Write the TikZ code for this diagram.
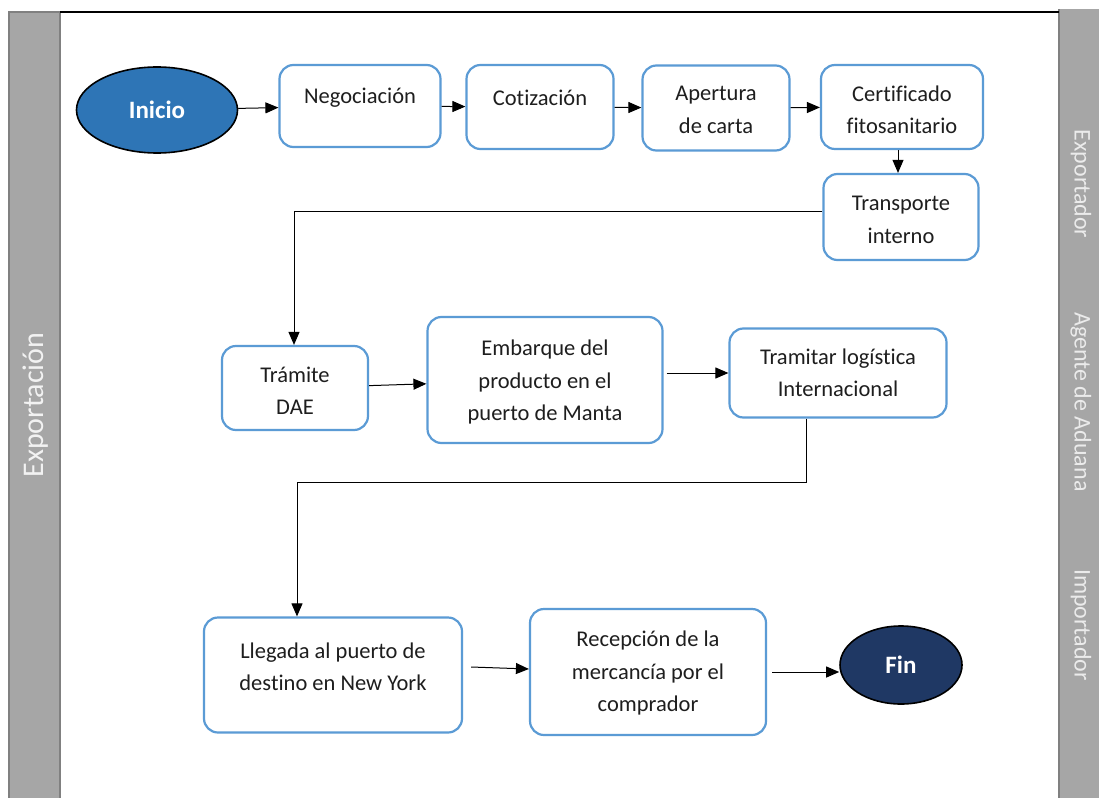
\documentclass[tikz,border=0pt]{standalone}
\usepackage{fontspec}
\setmainfont{Carlito}[Ligatures=NoCommon]
\usetikzlibrary{arrows.meta,shapes.geometric}
\definecolor{band}{HTML}{A6A6A6}
\definecolor{bandedge}{HTML}{808080}
\definecolor{boxedge}{HTML}{5B9BD5}
\definecolor{startfill}{HTML}{2E75B6}
\definecolor{endfill}{HTML}{1F3864}
\definecolor{ink}{HTML}{1E1E1E}
\begin{document}
\begin{tikzpicture}[x=1pt,y=-1pt,
  box/.style={draw=boxedge,line width=2.2pt,rounded corners=14pt,fill=white,inner sep=0pt},
  txt/.style={text=ink,align=center,inner sep=0pt,font=\fontsize{22.5}{32.5}\selectfont},
  terminal/.style={ellipse,draw=black,line width=1.6pt,inner sep=0pt,text=white,font=\fontsize{25}{28}\selectfont\bfseries},
  arr/.style={draw=black,line width=1pt,-{Triangle[length=13pt,width=11pt]}},
  lane/.style={text=white!92!black,inner sep=0pt,font=\fontsize{24}{28}\selectfont}]
% canvas
\fill[white] (0,0) rectangle (1099,797);
\useasboundingbox (0,0) rectangle (1099,797);
% swimlane bands
\fill[band] (9,12) rectangle (60,800);
\draw[bandedge,line width=1.6pt] (9,800) -- (9,12) -- (60,12) -- (60,800);
\fill[band] (1059,9) rectangle (1102,800);
\draw[bandedge,line width=1.6pt] (1059,800) -- (1059,9);
\draw[black,line width=2pt] (60,12) -- (1059,12);
\node[lane,rotate=90,font=\fontsize{30}{34}\selectfont,text=white!95!black] (lx) at (36,405) {Exportación};
\node[lane,rotate=-90] (l1) at (1081,184) {Exportador};
\node[lane,rotate=-90] (l2) at (1081,402) {Agente de Aduana};
\node[lane,rotate=-90] (l3) at (1081,625) {Importador};
% terminals
\node[terminal,fill=startfill,minimum width=161pt,minimum height=86pt] (ini) at (157,110) {Inicio};
\node[terminal,fill=endfill,minimum width=122pt,minimum height=78pt] (fin) at (901,665) {Fin};
% process boxes
\node[box,minimum width=161pt,minimum height=82pt] (neg) at (360,106) {};
\node[box,minimum width=147pt,minimum height=84pt] (cot) at (540,107) {};
\node[box,minimum width=147pt,minimum height=85pt] (ape) at (716,108) {};
\node[box,minimum width=162pt,minimum height=84pt] (cer) at (902,107) {};
\node[box,minimum width=155pt,minimum height=86pt] (tra) at (901,217) {};
\node[box,minimum width=146pt,minimum height=84pt] (dae) at (295,388) {};
\node[box,minimum width=235pt,minimum height=126pt] (emb) at (545,380) {};
\node[box,minimum width=217pt,minimum height=89pt] (log) at (838,373) {};
\node[box,minimum width=258pt,minimum height=115pt] (lle) at (333,675) {};
\node[box,minimum width=236pt,minimum height=126pt] (rec) at (648,672) {};
% box texts
\node[txt] (negt) at ([yshift=8pt]neg.center) {Negociación};
\node[txt] (cott) at ([yshift=9pt]cot.center) {Cotización};
\node[txt] (apet) at ([yshift=-2pt]ape.center) {Apertura\\de carta};
\node[txt] (cert) at ([yshift=-3pt]cer.center) {Certificado\\fitosanitario};
\node[txt] (trat) at ([yshift=-3pt]tra.center) {Transporte\\interno};
\node[txt] (daet) at ([yshift=-3pt]dae.center) {Trámite\\DAE};
\node[txt] (embt) at ([yshift=-2pt]emb.center) {Embarque del\\producto en el\\puerto de Manta};
\node[txt] (logt) at (log.center) {Tramitar logística\\Internacional};
\node[txt] (llet) at ([yshift=8pt]lle.center) {Llegada al puerto de\\destino en New York};
\node[txt] (rect) at ([yshift=-1pt]rec.center) {Recepción de la\\mercancía por el\\comprador};
% flow
\draw[arr] (ini) -- (neg);
\draw[arr] (neg) -- (cot);
\draw[arr] (cot) -- (ape);
\draw[arr] (ape) -- (cer);
\draw[arr] ([xshift=-4pt]cer.south) -- ([xshift=-4pt]cer.south |- tra.north);
\draw[arr] ([yshift=6pt]tra.west) -| ([xshift=-1pt]dae.north);
\draw[arr] (dae) -- (emb);
\draw[arr] ([xshift=3pt]emb.east |- log.west) -- (log.west);
\draw[arr] ([xshift=-32pt]log.south) -- ++(0pt,-64pt) -| ([xshift=-36pt]lle.north);
\draw[arr] ([xshift=8pt,yshift=8pt]lle.east) -- ([yshift=3pt]rec.west);
\draw[arr] ([xshift=5pt]rec.east) -- (fin.west |- rec.east);
\end{tikzpicture}
\end{document}
